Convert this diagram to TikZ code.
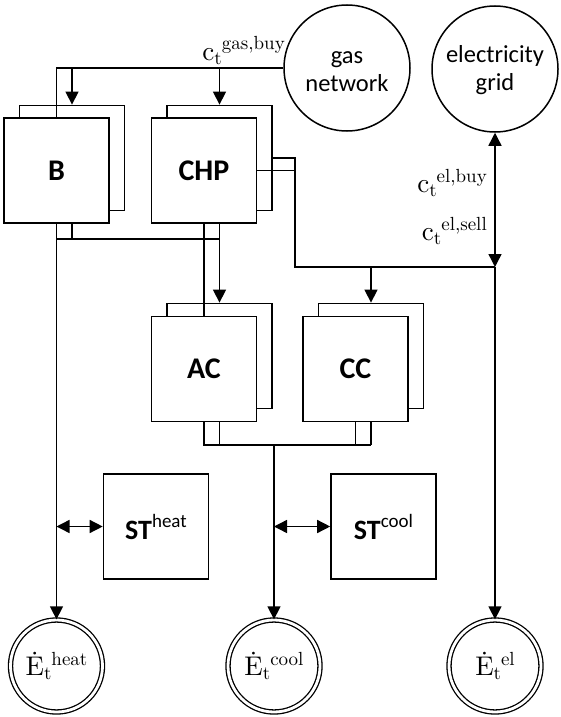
\documentclass[tikz,border=0pt]{standalone}
\usepackage{fontspec}
\setmainfont{Carlito}
\newfontfamily\lmr{lmroman10-regular.otf}
\usetikzlibrary{arrows.meta}
\newcommand{\mlab}[3]{{\lmr\fontsize{27}{30}\selectfont #1\raisebox{-4pt}{\fontsize{19}{20}\selectfont #2}\raisebox{10pt}{\fontsize{19}{20}\selectfont #3}}}
\newcommand{\stlab}[1]{{\fontsize{28}{30}\selectfont\bfseries ST}\raisebox{12pt}{\fontsize{19}{20}\selectfont #1}}
\tikzset{
  unitbox/.style={draw, line width=1.8pt, fill=white, minimum width=105pt, minimum height=105pt, inner sep=0pt, font=\fontsize{30}{32}\selectfont\bfseries},
  stbox/.style={draw, line width=1.6pt, fill=white, minimum width=105pt, minimum height=105pt, inner sep=0pt},
  src/.style={draw, circle, line width=1.5pt, minimum size=126pt, inner sep=0pt},
  srctext/.style={inner sep=0pt, align=center, font=\fontsize{24.5}{28}\selectfont},
  dem/.style={draw, circle, line width=1.3pt, double, double distance=2.8pt, minimum size=92pt, inner sep=0pt},
  conn/.style={line width=1.4pt},
  arr/.style={conn, -{Triangle[length=13pt,width=13pt]}},
  darr/.style={conn, {Triangle[length=13pt,width=13pt]}-{Triangle[length=13pt,width=13pt]}},
}
\begin{document}
\begin{tikzpicture}[x=1pt,y=-1pt]
\useasboundingbox (0,0) rectangle (561,717);
% sources
\node[src] (gas) at (347,68) {};
\node[srctext] (gastext) at (347,72) {gas\\network};
\node[src] (grid) at (495,69) {};
\node[srctext] (gridtext) at (495,70) {electricity\\grid};
% back boxes
\node[unitbox] (Bb) at (72,158) {};
\node[unitbox] (CHPb) at (219.5,158) {};
\node[unitbox] (ACb) at (219.5,356) {};
\node[unitbox] (CCb) at (371,356) {};
% coordinates
\coordinate (hb) at (0,239);
\coordinate (cb) at (0,445);
\coordinate (chpx) at (295,267);
\coordinate (elj) at (495,267);
% demands
\node[dem] (Eheat) at (56.5,666) {\mlab{Ė}{t}{heat}};
\node[dem] (Ecool) at (274,666) {\mlab{Ė}{t}{cool}};
\node[dem] (Eel) at (495,666) {\mlab{Ė}{t}{el}};
% storages
\node[stbox] (STh) at (156,526.5) {\stlab{heat}};
\node[stbox] (STc) at (383.5,526.5) {\stlab{cool}};
% front box centres
\path (56.5,170.5) coordinate (Bfc) (204,170.5) coordinate (CHPfc) (204,369) coordinate (ACfc) (355.5,369) coordinate (CCfc);
% gas connections
\draw[arr] (gas.west) -| ([yshift=-53pt]Bfc);
\draw[arr] (Bb.north |- gas.west) -- (Bb.north);
\draw[arr] ([yshift=-53pt]CHPfc |- gas.west) -- ([yshift=-53pt]CHPfc);
\draw[arr] (CHPb.north |- gas.west) -- (CHPb.north);
% heat bus
\draw[conn] (Bb.south) -- (Bb.south |- hb);
\draw[conn] (Bfc |- hb) -- (CHPb.south |- hb);
\draw[arr] (Bfc) -- (Eheat.north);
\draw[arr] (CHPfc) -- ([yshift=-53pt]ACfc);
\draw[arr] (CHPb.south) -- (ACb.north);
% electricity
\draw[conn] (CHPb.east) -| (chpx) -- (elj);
\draw[conn] (CHPfc) -- (CHPfc -| chpx);
\draw[arr] ([yshift=-53pt]CCfc |- elj) -- ([yshift=-53pt]CCfc);
\draw[arr] (CCb.north |- elj) -- (CCb.north);
\draw[darr] (elj) -- (grid.south);
\draw[arr] (elj) -- (Eel.north);
% cooling bus
\draw[conn] (ACb.south) -- (ACb.south |- cb);
\draw[conn] (CCb.south) -- (CCb.south |- cb);
\draw[conn] (ACfc) -- (ACfc |- cb) -- (CCb.south |- cb);
\draw[conn] (CCfc) -- (CCfc |- cb);
\draw[arr] (Ecool.north |- cb) -- (Ecool.north);
% storage arrows
\draw[darr] (Bfc |- STh.west) -- (STh.west);
\draw[darr] (Ecool.north |- STc.west) -- (STc.west);
% front boxes
\node[unitbox] (Bf) at (Bfc) {B};
\node[unitbox] (CHPf) at (CHPfc) {CHP};
\node[unitbox] (ACf) at (ACfc) {AC};
\node[unitbox] (CCf) at (CCfc) {CC};
% price labels
\node[anchor=base east, inner sep=0pt] (pgas) at (285,60) {\mlab{c}{t}{gas,buy}};
\node[anchor=base east, inner sep=0pt] (pelb) at (487,192) {\mlab{c}{t}{el,buy}};
\node[anchor=base east, inner sep=0pt] (pels) at (487,240) {\mlab{c}{t}{el,sell}};
\end{tikzpicture}
\end{document}
